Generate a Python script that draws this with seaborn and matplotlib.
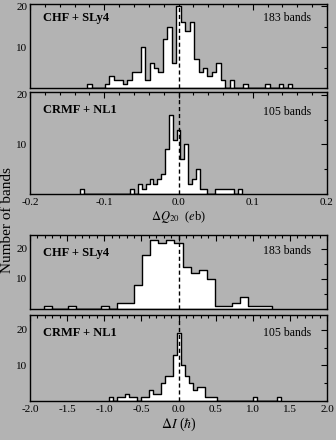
import numpy as np
import pandas as pd
import matplotlib
matplotlib.use("Agg")
import matplotlib.pyplot as plt
from matplotlib.ticker import MultipleLocator, FormatStrFormatter
import seaborn as sns

sns.set_theme(style="white")
plt.rcParams["font.family"] = ["Liberation Serif", "DejaVu Serif"]
plt.rcParams["mathtext.fontset"] = "stix"
plt.rcParams["axes.unicode_minus"] = False

BG = "#b3b3b3"

# ---- Quadrupole moment differences, Delta Q20 (e b) ----
q_chf_width = 0.006
q_chf_centers = [-0.120, -0.096, -0.090, -0.084, -0.078, -0.072, -0.066, -0.060,
                 -0.054, -0.048, -0.042, -0.036, -0.030, -0.024, -0.018, -0.012,
                 -0.006, 0.000, 0.006, 0.012, 0.018, 0.024, 0.030, 0.036,
                 0.042, 0.048, 0.054, 0.060, 0.072, 0.090, 0.120, 0.138, 0.150]
q_chf_counts = [1, 1, 3, 2, 2, 1, 2, 4,
                4, 10, 2, 6, 5, 4, 12, 15,
                6, 20, 16, 14, 16, 7, 4, 5,
                3, 4, 6, 2, 2, 1, 1, 1, 1]

q_crmf_width = 0.0052
q_crmf_centers = [-0.1300, -0.0624, -0.0520, -0.0468, -0.0416, -0.0364, -0.0312,
                  -0.0260, -0.0208, -0.0156, -0.0104, -0.0052, 0.0000, 0.0052,
                  0.0104, 0.0156, 0.0208, 0.0260, 0.0312, 0.0364, 0.0520,
                  0.0572, 0.0624, 0.0676, 0.0728, 0.0832]
q_crmf_counts = [1, 1, 2, 1, 2, 3, 2,
                 3, 4, 9, 16, 11, 13, 7,
                 10, 2, 3, 5, 1, 1, 1,
                 1, 1, 1, 1, 1]

# ---- Spin differences, Delta I (hbar) ----
i_chf_width = 0.11
i_chf_centers = [-1.76, -1.43, -0.99, -0.77, -0.66, -0.55, -0.44, -0.33, -0.22,
                 -0.11, 0.00, 0.11, 0.22, 0.33, 0.44, 0.55, 0.66, 0.77, 0.88,
                 0.99, 1.10, 1.21]
i_chf_counts = [1, 1, 1, 2, 2, 8, 18, 23, 22,
                23, 22, 14, 12, 13, 10, 1, 1, 2, 4,
                1, 1, 1]

i_crmf_width = 0.054
i_crmf_centers = [-0.914, -0.806, -0.752, -0.698, -0.644, -0.590, -0.482, -0.428,
                  -0.374, -0.320, -0.266, -0.212, -0.158, -0.104, -0.050, 0.004,
                  0.058, 0.112, 0.166, 0.220, 0.274, 0.328, 0.382, 0.436,
                  0.490, 1.030, 1.354]
i_crmf_counts = [1, 1, 1, 2, 1, 1, 1, 1,
                 3, 2, 2, 5, 7, 7, 13, 19,
                 10, 7, 5, 3, 4, 4, 1, 1,
                 1, 1, 1]

panel_names = ["CHF + SLy4", "CRMF + NL1", "CHF + SLy4", "CRMF + NL1"]
band_labels = ["183 bands", "105 bands", "183 bands", "105 bands"]
q_ticks = [-0.2, -0.1, 0.0, 0.1, 0.2]
i_ticks = [-2.0, -1.5, -1.0, -0.5, 0.0, 0.5, 1.0, 1.5, 2.0]

W, H = 336, 440
fig = plt.figure(figsize=(W / 100, H / 100), dpi=100, facecolor=BG)


def make_axes(top, bottom, left=30, right=327):
    return fig.add_axes([left / W, 1 - bottom / H, (right - left) / W, (bottom - top) / H])


def draw_panel(ax, centers, counts, width, ticks, ylim, xminor, name, bands,
               name_y, bands_y, show_xlabels):
    df = pd.DataFrame({"value": centers, "count": counts})
    lo = min(centers) - width / 2
    n_bins = int(round((max(centers) - min(centers)) / width)) + 1
    edges = list(lo + width * np.arange(n_bins + 1))
    sns.histplot(data=df, x="value", weights="count", bins=edges,
                 element="step", fill=True, color="white", alpha=1,
                 edgecolor="black", linewidth=1.0, ax=ax)
    ax.set_facecolor(BG)
    ax.set_xlim(ticks[0], ticks[-1])
    ax.set_ylim(*ylim)
    ax.axvline(0, color="black", linestyle=(0, (3, 2)), linewidth=1.0, zorder=5)
    ax.set_xticks(ticks)
    ax.xaxis.set_minor_locator(MultipleLocator(xminor))
    ax.set_yticks([10, 20])
    ax.yaxis.set_minor_locator(MultipleLocator(5))
    ax.tick_params(which="both", direction="in", top=True, right=True,
                   width=0.8, colors="black", labelsize=8)
    ax.tick_params(axis="y", pad=2)
    ax.tick_params(axis="x", pad=3)
    ax.tick_params(which="major", length=4)
    ax.tick_params(which="minor", length=2)
    ax.xaxis.set_major_formatter(FormatStrFormatter("%.1f"))
    if not show_xlabels:
        ax.tick_params(axis="x", labelbottom=False)
    ax.set_xlabel("")
    ax.set_ylabel("")
    for s in ax.spines.values():
        s.set_color("black")
        s.set_linewidth(1.0)
        s.set_visible(True)
    ax.text(0.045, name_y, name, transform=ax.transAxes, fontsize=9,
            fontweight="bold", ha="left", va="center", color="black")
    ax.text(0.947, bands_y, bands, transform=ax.transAxes, fontsize=8.5,
            ha="right", va="center", color="black")


ax1 = make_axes(4, 88)
draw_panel(ax1, q_chf_centers, q_chf_counts, q_chf_width, q_ticks, (0, 20.5),
           0.02, panel_names[0], band_labels[0], 0.83, 0.83, False)
ax2 = make_axes(92, 194)
draw_panel(ax2, q_crmf_centers, q_crmf_counts, q_crmf_width, q_ticks, (0, 20.6),
           0.02, panel_names[1], band_labels[1], 0.82, 0.8, True)
ax3 = make_axes(235, 309)
draw_panel(ax3, i_chf_centers, i_chf_counts, i_chf_width, i_ticks, (0, 24.5),
           0.1, panel_names[2], band_labels[2], 0.76, 0.78, False)
ax4 = make_axes(315, 401)
draw_panel(ax4, i_crmf_centers, i_crmf_counts, i_crmf_width, i_ticks, (0, 24.2),
           0.1, panel_names[3], band_labels[3], 0.79, 0.79, True)

fig.text(179 / W, 1 - 217 / H, r"$\Delta Q_{20}$  ($e$b)", ha="center", va="center",
         fontsize=9, color="black")
fig.text(179 / W, 1 - 424 / H, r"$\Delta I$ ($\hbar$)", ha="center", va="center",
         fontsize=10, color="black")
fig.text(8 / W, 1 - 220 / H, "Number of bands", rotation=90, ha="center",
         va="center", fontsize=11, color="black")

fig.savefig("out.png", dpi=100, facecolor=BG)
